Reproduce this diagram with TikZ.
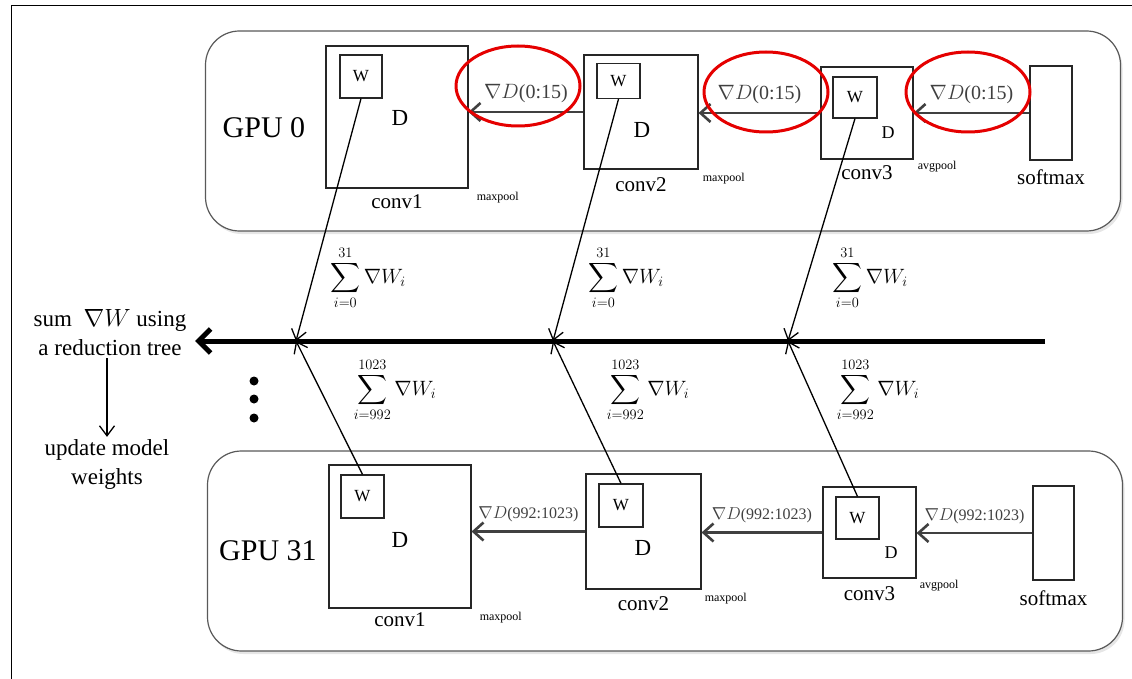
\documentclass[tikz,border=0pt]{standalone}
\usepackage{fontspec}
\setmainfont{Liberation Serif}
\usepackage{amsmath}
\usetikzlibrary{shapes.geometric, arrows.meta, positioning, shadows}

\begin{document}
\begin{tikzpicture}[
  x=1pt, y=-1pt,
  node distance=5pt and 5pt,
  gpubox/.style={rectangle, draw=black!65, line width=1.2pt, rounded corners=34pt,
             minimum width=915pt, minimum height=200pt, fill=white,
             drop shadow={shadow xshift=2pt, shadow yshift=-3pt, opacity=0.2}},
  layer/.style={rectangle, draw=black!85, line width=1.1pt, inner sep=0pt},
  wbox/.style={layer, font=\fontsize{17}{20}\selectfont},
  dletter/.style={font=\fontsize{23}{26}\selectfont, inner sep=0pt},
  dsmall/.style={font=\fontsize{18}{21}\selectfont, inner sep=0pt},
  layername/.style={font=\fontsize{21}{24}\selectfont, inner sep=1pt},
  pool/.style={font=\fontsize{12}{14}\selectfont, inner sep=0pt},
  gpu/.style={font=\fontsize{30}{34}\selectfont},
  side/.style={font=\fontsize{23}{29}\selectfont, align=center, inner sep=2pt},
  grad/.style={font=\fontsize{20}{24}\selectfont, inner sep=2pt},
  gradsmall/.style={font=\fontsize{16}{19}\selectfont, inner sep=2pt},
  sumlbl/.style={font=\fontsize{21}{25}\selectfont, inner sep=1pt},
  ring/.style={ellipse, draw=red!90!black, line width=3pt, minimum width=124pt,
             minimum height=80pt, inner sep=0pt},
  dot/.style={circle, fill=black, inner sep=0pt, minimum size=9pt},
  arrow/.style={-{Straight Barb[length=10pt, width=18pt]}, line width=2.6pt, color=black!75},
  link/.style={-{Straight Barb[length=10pt, width=15pt]}, line width=1.3pt},
  bus/.style={-{Straight Barb[length=12pt, width=24pt]}, line width=5pt}
]
\useasboundingbox (0,0) rectangle (1132,679);
\draw[line width=1pt] (11,679) -- (11,6) -- (1132,6);

% the two GPUs
\node[gpubox] (gpu0) at (663,131) {};
\node[gpubox] (gpu31) at (665,551) {};
\node[gpu] (gpu0lbl) at (264,128) {GPU 0};
\node[gpu] (gpu31lbl) at (268,551) {GPU 31};

% GPU 0 layers
\node[layer, minimum width=142pt, minimum height=142pt] (tc1) at (397,117) {};
\node[wbox, minimum width=42pt, minimum height=43pt] (tw1) at (361,76.5) {W};
\node[dletter] (td1) at (400,118) {D};
\node[layername, below=5pt of tc1] (tc1n) {conv1};
\node[pool, below right=3pt and 8pt of tc1.south east] (tp1) {maxpool};

\node[layer, minimum width=114pt, minimum height=114pt] (tc2) at (641,112) {};
\node[wbox, minimum width=43pt, minimum height=35pt] (tw2) at (618.5,81) {W};
\node[dletter] (td2) at (642,130) {D};
\node[layername, below=7pt of tc2] (tc2n) {conv2};
\node[pool, below right=3pt and 4pt of tc2.south east] (tp2) {maxpool};

\node[layer, minimum width=92pt, minimum height=92pt] (tc3) at (867,113) {};
\node[wbox, minimum width=44pt, minimum height=41pt] (tw3) at (855,97.5) {W};
\node[dsmall] (td3) at (888,133) {D};
\node[layername, below=5pt of tc3] (tc3n) {conv3};
\node[pool, below right=1pt and 4pt of tc3.south east] (tp3) {avgpool};

\node[layer, minimum width=42pt, minimum height=94pt] (tsm) at (1051,113) {};
\node[layername, below=8pt of tsm] (tsmn) {softmax};

\draw[arrow] (tsm.west) -- (tc3.east)
  node[midway, above=6pt, grad] (tg3) {$\nabla D$(0:15)};
\draw[arrow] (tc3.west) -- (tc3.west -| tc2.east)
  node[midway, above=6pt, grad] (tg2) {$\nabla D$(0:15)};
\draw[arrow] (tc2.west) -- (tc2.west -| tc1.east)
  node[midway, above=6pt, grad] (tg1) {$\nabla D$(0:15)};

\node[ring] (ring1) at (518,86) {};
\node[ring] (ring2) at (766,92) {};
\node[ring] (ring3) at (968,92) {};

% GPU 31 layers
\node[layer, minimum width=142pt, minimum height=143pt] (bc1) at (400,536.5) {};
\node[wbox, minimum width=43pt, minimum height=43pt] (bw1) at (362.5,496.5) {W};
\node[dletter] (bd1) at (400,540) {D};
\node[layername, below=3pt of bc1] (bc1n) {conv1};
\node[pool, below right=3pt and 8pt of bc1.south east] (bp1) {maxpool};

\node[layer, minimum width=115pt, minimum height=115pt] (bc2) at (643.5,531.5) {};
\node[wbox, minimum width=44pt, minimum height=43pt] (bw2) at (621,505.5) {W};
\node[dletter] (bd2) at (643,548) {D};
\node[layername, below=6pt of bc2] (bc2n) {conv2};
\node[pool, below right=3pt and 3pt of bc2.south east] (bp2) {maxpool};

\node[layer, minimum width=93pt, minimum height=91pt] (bc3) at (869.5,532.5) {};
\node[wbox, minimum width=43pt, minimum height=42pt] (bw3) at (857.5,518) {W};
\node[dsmall] (bd3) at (891,553) {D};
\node[layername, below=7pt of bc3] (bc3n) {conv3};
\node[pool, below right=1pt and 3pt of bc3.south east] (bp3) {avgpool};

\node[layer, minimum width=41pt, minimum height=94pt] (bsm) at (1053.5,533) {};
\node[layername, below=9pt of bsm] (bsmn) {softmax};

\draw[arrow] (bsm.west) -- (bsm.west -| bc3.east)
  node[midway, above=6pt, gradsmall] (bg3) {$\nabla D$(992:1023)};
\draw[arrow] (bc3.west) -- (bc3.west -| bc2.east)
  node[midway, above=6pt, gradsmall] (bg2) {$\nabla D$(992:1023)};
\draw[arrow] (bc2.west) -- (bc2.west -| bc1.east)
  node[midway, above=6pt, gradsmall] (bg1) {$\nabla D$(992:1023)};

% reduction
\coordinate (busR) at (1045,341);
\coordinate (busL) at (195,341);
\coordinate (j1) at (296,341);
\coordinate (j2) at (553,341);
\coordinate (j3) at (788,341);
\draw[bus] (busR) -- (busL);

\draw[link] (tw1.south) -- (j1);
\draw[link] (tw2.south) -- (j2);
\draw[link] (tw3.south) -- (j3);
\draw[link] (bw1.north) -- (j1);
\draw[link] (bw2.north) -- (j2);
\draw[link] (bw3.north) -- (j3);

\node[sumlbl] (ts1) at (368,278) {$\displaystyle\sum_{i=0}^{31}\nabla W_i$};
\node[sumlbl] (ts2) at (626,278) {$\displaystyle\sum_{i=0}^{31}\nabla W_i$};
\node[sumlbl] (ts3) at (870,278) {$\displaystyle\sum_{i=0}^{31}\nabla W_i$};
\node[sumlbl] (bs1) at (395,390) {$\displaystyle\sum_{i=992}^{1023}\nabla W_i$};
\node[sumlbl] (bs2) at (648,390) {$\displaystyle\sum_{i=992}^{1023}\nabla W_i$};
\node[sumlbl] (bs3) at (878,390) {$\displaystyle\sum_{i=992}^{1023}\nabla W_i$};

% left side
\node[side] (sumtxt) at (110,333) {sum\ \ $\nabla W$ using\\a reduction tree};
\node[side] (update) at (107,464) {update model\\weights};
\draw[link] (sumtxt.south -| update.north) -- (update.north);

\foreach \y/\n in {381/1, 399/2, 418/3}
  \node[dot] (dot\n) at (254,\y) {};

\end{tikzpicture}
\end{document}
